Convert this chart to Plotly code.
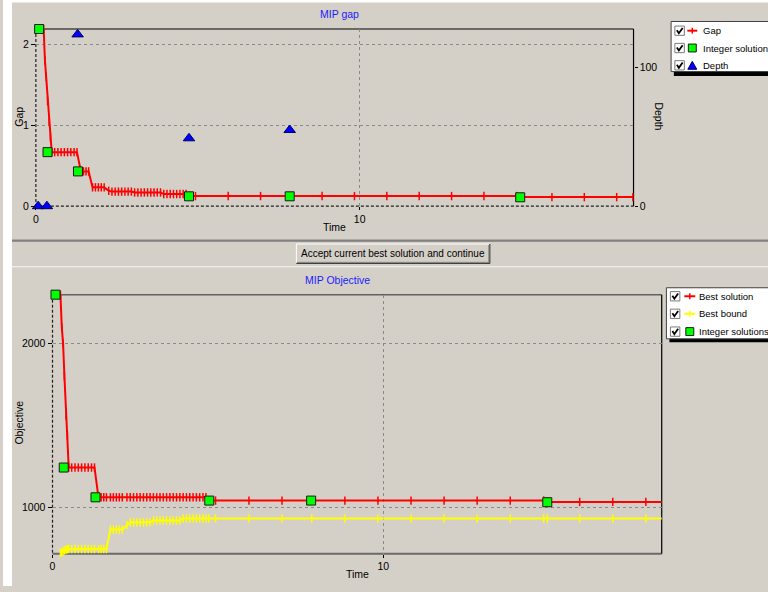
import plotly.graph_objects as go

W, H = 768, 592
BG = "#d4d0c8"
FONT = "Liberation Sans, Arial, sans-serif"
FS = 10.5

# ---------------- data ----------------
times = [0.09, 0.24, 0.28, 0.32, 0.36, 0.41, 0.45, 0.49,
         0.58, 0.68, 0.78, 0.88, 0.98, 1.08, 1.18, 1.27,
         1.39, 1.47, 1.55, 1.63,
         1.75, 1.84, 1.93, 2.02, 2.11,
         2.25, 2.35, 2.45, 2.55, 2.65, 2.75, 2.85, 2.95,
         3.05, 3.15, 3.25, 3.35, 3.45, 3.55, 3.65, 3.75, 3.85,
         3.95, 4.05, 4.15, 4.25, 4.35, 4.45, 4.55, 4.64,
         4.73, 4.93, 5.94, 6.94, 7.84, 8.84, 9.84, 10.84, 11.84, 12.84, 13.84, 14.85,
         14.96, 15.94, 16.94, 17.94, 18.44]

gap = [2.19, 2.19, 1.80, 1.60, 1.30, 1.05, 0.85, 0.668,
       0.668, 0.668, 0.668, 0.668, 0.668, 0.668, 0.668, 0.668,
       0.43, 0.43, 0.43, 0.43,
       0.233, 0.233, 0.233, 0.233, 0.233,
       0.19, 0.18, 0.18, 0.18, 0.18, 0.18, 0.18, 0.18,
       0.17, 0.17, 0.17, 0.17, 0.17, 0.17, 0.17, 0.17, 0.17,
       0.15, 0.15, 0.15, 0.15, 0.15, 0.15, 0.15, 0.15,
       0.125, 0.125, 0.125, 0.125, 0.125, 0.125, 0.125, 0.125, 0.125, 0.125, 0.125, 0.125,
       0.112, 0.112, 0.112, 0.112, 0.112]

best_solution = [2298, 2298, 2100, 2000, 1800, 1560, 1440, 1242,
                 1242, 1242, 1242, 1242, 1242, 1242, 1242, 1242,
                 1060, 1060, 1060, 1060,
                 1060, 1060, 1060, 1060, 1060,
                 1060, 1060, 1060, 1060, 1060, 1060, 1060, 1060,
                 1060, 1060, 1060, 1060, 1060, 1060, 1060, 1060, 1060,
                 1060, 1060, 1060, 1060, 1060, 1060, 1060, 1060,
                 1040, 1040, 1040, 1040, 1040, 1040, 1040, 1040, 1040, 1040, 1040, 1040,
                 1032, 1032, 1032, 1032, 1032]

best_bound = [None, 722, 722, 730, 736, 740, 744, 744,
              744, 744, 744, 744, 744, 744, 744, 744,
              744, 744, 744, 744,
              863, 863, 863, 863, 863,
              890, 907, 907, 907, 907, 907, 907, 907,
              919, 919, 919, 919, 919, 919, 919, 919, 919,
              931, 931, 931, 931, 931, 931, 931, 931,
              931, 931, 931, 931, 931, 931, 931, 931, 931, 931, 931, 931,
              931, 931, 931, 931, 931]

int_time_gap = [0.10, 0.36, 1.30, 4.73, 7.84, 14.96]
int_gap = [2.19, 0.668, 0.43, 0.122, 0.122, 0.11]
depth_time = [0.07, 0.34, 1.29, 4.73, 7.84, 14.96]
depth = [0, 0, 124, 49, 55, 128]
int_time_obj = [0.09, 0.34, 1.30, 4.74, 7.82, 14.96]
int_obj = [2298, 1242, 1060, 1040, 1040, 1030]

time_ticks = [0, 10]
gap_ticks = [0, 1, 2]
depth_ticks = [0, 100]
obj_ticks = [1000, 2000]


def X(px):
    return px / W


def Y(py):
    return 1 - py / H


RED = "#ff0000"
YEL = "#ffff00"
GRN = "#00ff00"
BLU = "#0000ff"

fig = go.Figure()


def tick_marker(c):
    return dict(symbol="line-ns", size=6, color=c, line=dict(color=c, width=1.5))


fig.add_trace(go.Scatter(x=times, y=gap, mode="lines+markers", xaxis="x", yaxis="y",
                         line=dict(color=RED, width=2), marker=tick_marker(RED),
                         cliponaxis=False, showlegend=False, name="Gap"))
fig.add_trace(go.Scatter(x=int_time_gap, y=int_gap, mode="markers", xaxis="x", yaxis="y",
                         marker=dict(symbol="square", size=9, color=GRN, line=dict(color="#1a1a1a", width=1)),
                         cliponaxis=False, showlegend=False, name="Integer solution"))
fig.add_trace(go.Scatter(x=depth_time, y=depth, mode="markers", xaxis="x", yaxis="y2",
                         marker=dict(symbol="triangle-up", size=10, color=BLU, line=dict(color="#000060", width=1)),
                         cliponaxis=False, showlegend=False, name="Depth"))

fig.add_trace(go.Scatter(x=times, y=best_bound, mode="lines+markers", xaxis="x2", yaxis="y3",
                         line=dict(color=YEL, width=2), marker=tick_marker(YEL),
                         cliponaxis=False, showlegend=False, name="Best bound"))
fig.add_trace(go.Scatter(x=times, y=best_solution, mode="lines+markers", xaxis="x2", yaxis="y3",
                         line=dict(color=RED, width=2), marker=tick_marker(RED),
                         cliponaxis=False, showlegend=False, name="Best solution"))
fig.add_trace(go.Scatter(x=int_time_obj, y=int_obj, mode="markers", xaxis="x2", yaxis="y3",
                         marker=dict(symbol="square", size=9, color=GRN, line=dict(color="#1a1a1a", width=1)),
                         cliponaxis=False, showlegend=False, name="Integer solutions"))

axis_common = dict(showline=False, zeroline=False, ticks="outside", tickcolor="#000",
                   tickfont=dict(family=FONT, size=FS, color="#000"),
                   gridcolor="#8a8a8a", griddash="3px,3px", gridwidth=1)

fig.update_layout(
    width=W, height=H, autosize=False,
    margin=dict(l=0, r=0, t=0, b=0),
    paper_bgcolor=BG, plot_bgcolor="rgba(0,0,0,0)",
    font=dict(family=FONT, size=FS, color="#000"),
    xaxis=dict(domain=[X(33), X(633)], range=[0, 18.46], anchor="y", tickvals=time_ticks,
               showgrid=True, ticklen=3, **axis_common),
    yaxis=dict(domain=[Y(208.3), Y(29.3)], range=[0, 2.19], anchor="x", tickvals=gap_ticks,
               showgrid=True, ticklen=4, **axis_common),
    yaxis2=dict(overlaying="y", side="right", anchor="x", range=[0, 127.9], tickvals=depth_ticks,
                showgrid=False, ticklen=3, **axis_common),
    xaxis2=dict(domain=[X(49.7), X(661.3)], range=[0, 18.42], anchor="y3", tickvals=time_ticks,
                showgrid=True, ticklen=3, **axis_common),
    yaxis3=dict(domain=[Y(559.3), Y(297.7)], range=[716, 2298], anchor="x2", tickvals=obj_ticks,
                showgrid=True, ticklen=4, **axis_common),
)

shapes = []


def pline(x0, y0, x1, y1, color, width=1, dash=None, layer="below"):
    d = dict(type="line", xref="paper", yref="paper", x0=X(x0), y0=Y(y0), x1=X(x1), y1=Y(y1),
             line=dict(color=color, width=width), layer=layer)
    if dash:
        d["line"]["dash"] = dash
    shapes.append(d)


def prect(x0, y0, x1, y1, fill, line=None, lw=1, layer="below"):
    shapes.append(dict(type="rect", xref="paper", yref="paper", x0=X(x0), y0=Y(y0), x1=X(x1), y1=Y(y1),
                       fillcolor=fill, line=dict(color=line or fill, width=lw if line else 0), layer=layer))


def ppath(pts, color, width=1, fill=None, closed=False, layer="above"):
    s = "M " + " L ".join(f"{X(a):.5f},{Y(b):.5f}" for a, b in pts)
    if closed:
        s += " Z"
    shapes.append(dict(type="path", xref="paper", yref="paper", path=s,
                       line=dict(color=color, width=width),
                       fillcolor=fill if fill else "rgba(0,0,0,0)", layer=layer))


# window chrome
prect(0, 0, 9, H, "#ffffff")
prect(0, 0, W, 2.5, "#ffffff")
pline(9, 242.5, W, 242.5, "#808080", 1)
pline(9, 243.5, W, 243.5, "#5a5a5a", 1)
pline(9, 269.5, W, 269.5, "#f6f6f6", 1.2)

# button
prect(294.5, 246.5, 488.5, 266, BG)
pline(294.5, 246.5, 488.5, 246.5, "#ffffff", 1)
pline(294.5, 246.5, 294.5, 266, "#ffffff", 1)
pline(294.5, 266, 489, 266, "#404040", 1.2)
pline(488.7, 246.5, 488.7, 266, "#404040", 1.2)
pline(295.5, 265, 488, 265, "#808080", 1)
pline(487.7, 247.5, 487.7, 265, "#808080", 1)

# top chart frame
pline(33, 29.3, 633, 29.3, "#000", 1.2, layer="between")
pline(633, 29.3, 633, 208.3, "#000", 1.2, layer="between")
pline(33, 208.3, 633, 208.3, "#202020", 1.2, dash="3px,2px", layer="between")
pline(33, 29.3, 33, 208.3, "#202020", 1.2, dash="3px,2px", layer="between")

# bottom chart frame
pline(49.7, 297.7, 661.3, 297.7, "#606060", 1.5, layer="between")
pline(49.7, 559.5, 661.3, 559.5, "#6a6a6a", 2, layer="between")
pline(661.3, 297.7, 661.3, 559.5, "#000", 1.2, layer="between")
pline(49.7, 297.7, 49.7, 559.5, "#202020", 1.2, dash="3px,2px", layer="between")


def checkbox(x0, yc):
    prect(x0, yc - 4.7, x0 + 9.5, yc + 4.7, "#ffffff", "#7a7a7a", 1, layer="above")
    ppath([(x0 + 2, yc - 0.5), (x0 + 4, yc + 2.5), (x0 + 7.8, yc - 2.8)], "#000", 1.8)


annotations = []


def text(x, y, s, size=FS, color="#000", xanchor="left", angle=0):
    annotations.append(dict(x=X(x), y=Y(y), xref="paper", yref="paper", text=s, showarrow=False,
                            xanchor=xanchor, yanchor="middle", textangle=angle,
                            font=dict(family=FONT, size=size, color=color)))


LS = 9.5  # legend text size

# top legend
prect(673.5, 70, 780, 76.8, "#000", layer="above")
prect(670.7, 21.7, 780, 72.3, "#ffffff", "#404040", 1, layer="above")
rows_top = [31, 48.5, 66]
for r in rows_top:
    checkbox(674.5, r)
r = rows_top[0]
ppath([(687, r), (697, r)], RED, 2)
ppath([(692, r - 3), (692, r + 3)], RED, 1.5)
r = rows_top[1]
prect(688, r - 4, 696, r + 4, GRN, "#1a1a1a", 1, layer="above")
r = rows_top[2]
ppath([(687.5, r + 4), (692, r - 4), (696.5, r + 4)], "#000060", 1, fill=BLU, closed=True)
text(701, rows_top[0], "Gap", size=LS)
text(701, rows_top[1], "Integer solution", size=LS)
text(701, rows_top[2], "Depth", size=LS)

# bottom legend
prect(669, 340, 780, 345.7, "#000", layer="above")
prect(666, 290.7, 780, 342.3, "#ffffff", "#404040", 1, layer="above")
rows_bot = [299.3, 317, 335]
for r in rows_bot:
    checkbox(670, r)
r = rows_bot[0]
ppath([(684, r), (695, r)], RED, 2)
ppath([(689.5, r - 3), (689.5, r + 3)], RED, 1.5)
r = rows_bot[1]
ppath([(684, r), (695, r)], YEL, 2)
ppath([(689.5, r - 3), (689.5, r + 3)], YEL, 1.5)
r = rows_bot[2]
prect(685.5, r - 4, 693.5, r + 4, GRN, "#1a1a1a", 1, layer="above")
text(696.5, rows_bot[0], "Best solution", size=LS)
text(696.5, rows_bot[1], "Best bound", size=LS)
text(696.5, rows_bot[2], "Integer solutions", size=LS)

# titles and axis labels
text(338, 14, "MIP gap", color="#2020ff", xanchor="center")
text(336, 283, "MIP Objective", color="#2020ff", xanchor="center")
text(333, 229, "Time", xanchor="center")
text(356, 580, "Time", xanchor="center")
text(16, 118, "Gap", xanchor="center", angle=-90)
text(659, 118, "Depth", xanchor="center", angle=90)
text(16, 427, "Objective", xanchor="center", angle=-90)
text(391.5, 256.5, "Accept current best solution and continue", size=10, xanchor="center")

fig.update_layout(shapes=shapes, annotations=annotations)
fig.write_html("out.html", config={"displayModeBar": False},
               post_script="document.body.style.margin='0px';document.body.style.overflow='hidden';")
